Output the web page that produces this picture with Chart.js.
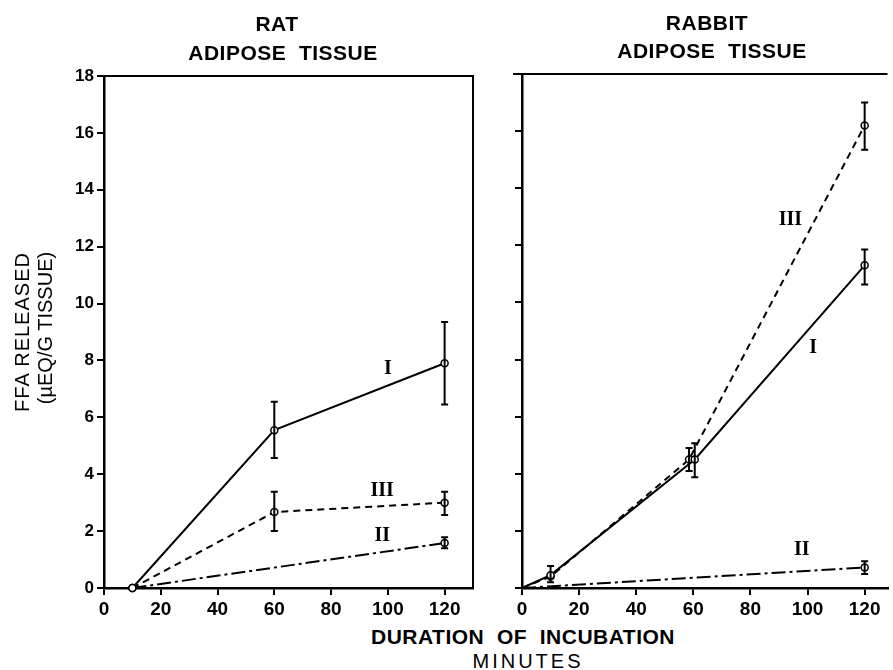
<!DOCTYPE html>
<html lang="en">
<head>
<meta charset="UTF-8">
<title>FFA released - rat and rabbit adipose tissue</title>
<script src="https://cdn.jsdelivr.net/npm/chart.js"></script>
<style>
    body { margin: 0; background: #fff; }
    #wrap { position: relative; width: 893px; height: 670px; background: #fff; font-family: "Liberation Sans", Arial, sans-serif; color: #000; }
    canvas { position: absolute; top: 0; }
    #ratCanvas { left: 0; }
    #rabbitCanvas { left: 480px; }
    .lbl { position: absolute; white-space: pre; text-align: center; font-size: 20px; line-height: 1; }
    .hd { font-weight: bold; font-size: 21px; letter-spacing: 0.5px; }
    .rot { transform: translate(-50%, -50%) rotate(-90deg); }
</style>
</head>
<body>
<div id="wrap">
    <canvas id="ratCanvas" width="480" height="625"></canvas>
    <canvas id="rabbitCanvas" width="413" height="625"></canvas>

    <div class="lbl hd" style="left:277px; top:13px; transform:translateX(-50%);">RAT</div>
    <div class="lbl hd" style="left:283px; top:42px; transform:translateX(-50%);">ADIPOSE  TISSUE</div>
    <div class="lbl hd" style="left:707px; top:12px; transform:translateX(-50%);">RABBIT</div>
    <div class="lbl hd" style="left:712px; top:40px; transform:translateX(-50%);">ADIPOSE  TISSUE</div>

    <div class="lbl rot" style="left:22px; top:332px; letter-spacing:1px;">FFA RELEASED</div>
    <div class="lbl rot" style="left:45px; top:328px;">(µEQ/G TISSUE)</div>

    <div class="lbl hd" style="left:523px; top:626px; transform:translateX(-50%);">DURATION  OF  INCUBATION</div>
    <div class="lbl" style="left:528px; top:651px; transform:translateX(-50%); letter-spacing:3px;">MINUTES</div>
</div>

<script>
    // axis ticks
    const xTicks = [0, 20, 40, 60, 80, 100, 120];
    const yTicks = [0, 2, 4, 6, 8, 10, 12, 14, 16, 18];

    // rat adipose tissue
    const ratX = [10, 60, 120];
    const ratI = [0, 5.55, 7.9];
    const ratILo = [null, 4.57, 6.45];
    const ratIHi = [null, 6.55, 9.35];
    const ratIII = [0, 2.67, 3.0];
    const ratIIILo = [null, 2.0, 2.57];
    const ratIIIHi = [null, 3.38, 3.38];
    const ratIIX = [10, 120];
    const ratII = [0, 1.58];
    const ratIILo = [null, 1.4];
    const ratIIHi = [null, 1.78];

    // rabbit adipose tissue
    const rabIX = [0, 10, 60.5, 120];
    const rabI = [0, 0.45, 4.5, 11.3];
    const rabILo = [null, 0.2, 3.88, 10.63];
    const rabIHi = [null, 0.77, 5.07, 11.85];
    const rabIIIX = [0, 10, 58.5, 120];
    const rabIII = [0, 0.4, 4.5, 16.2];
    const rabIIILo = [null, null, 4.1, 15.35];
    const rabIIIHi = [null, null, 4.9, 17.0];
    const rabIIX = [0, 120];
    const rabII = [0, 0.72];
    const rabIILo = [null, 0.49];
    const rabIIHi = [null, 0.94];

    // curve labels (data coordinates)
    const ratLabels = [["I", 100, 7.7], ["III", 98, 3.4], ["II", 98, 1.85]];
    const rabLabels = [["III", 94, 12.9], ["I", 102, 8.4], ["II", 98, 1.35]];

    const pts = (xs, ys) => xs.map((x, i) => ({ x: x, y: ys[i] }));

    function series(xs, ys, lo, hi, dash) {
        return {
            data: pts(xs, ys),
            errLo: lo, errHi: hi,
            borderColor: "#000", borderWidth: 2, borderDash: dash,
            pointRadius: ctx => (ctx.raw && ctx.raw.x === 0 ? 0 : 3.5),
            pointBackgroundColor: "#fff", pointBorderColor: "#000", pointBorderWidth: 1.5,
            tension: 0, clip: false
        };
    }

    const errorBars = {
        id: "errorBars",
        afterDatasetsDraw(chart) {
            const ctx = chart.ctx, xs = chart.scales.x, ys = chart.scales.y;
            ctx.save();
            ctx.strokeStyle = "#000";
            ctx.lineWidth = 2;
            chart.data.datasets.forEach(ds => {
                ds.data.forEach((p, i) => {
                    if (ds.errLo[i] == null) return;
                    const px = xs.getPixelForValue(p.x);
                    const y1 = ys.getPixelForValue(ds.errLo[i]);
                    const y2 = ys.getPixelForValue(ds.errHi[i]);
                    ctx.beginPath();
                    ctx.moveTo(px, y1); ctx.lineTo(px, y2);
                    ctx.moveTo(px - 3.5, y1); ctx.lineTo(px + 3.5, y1);
                    ctx.moveTo(px - 3.5, y2); ctx.lineTo(px + 3.5, y2);
                    ctx.stroke();
                });
            });
            ctx.restore();
        }
    };

    const extras = {
        id: "extras",
        afterDraw(chart, args, opts) {
            const ctx = chart.ctx, a = chart.chartArea;
            ctx.save();
            ctx.strokeStyle = "#000";
            ctx.lineWidth = 2;
            ctx.beginPath();
            ctx.moveTo(a.left - opts.topStart, a.top);
            ctx.lineTo(a.right, a.top);
            if (opts.rightEdge) ctx.lineTo(a.right, a.bottom);
            ctx.stroke();
            ctx.fillStyle = "#000";
            ctx.font = 'bold 20px "Liberation Serif", serif';
            ctx.textAlign = "center";
            ctx.textBaseline = "middle";
            opts.labels.forEach(l => {
                ctx.fillText(l[0], chart.scales.x.getPixelForValue(l[1]), chart.scales.y.getPixelForValue(l[2]));
            });
            ctx.restore();
        }
    };

    function axis(min, max, tickVals, fitSize, isX, showLabels) {
        return {
            type: "linear", min: min, max: max,
            afterBuildTicks: s => { s.ticks = tickVals.map(v => ({ value: v })); },
            afterFit: s => { if (isX) s.height = fitSize; else s.width = fitSize; },
            grid: { display: true, drawOnChartArea: false, drawTicks: true, tickLength: 7, color: "#000", lineWidth: 2 },
            border: { display: true, color: "#000", width: 2.5 },
            ticks: {
                color: "#000", autoSkip: false, maxRotation: 0, padding: 3,
                font: { family: "Liberation Sans", weight: "bold", size: isX ? 19 : 17 },
                callback: v => (showLabels ? String(v) : "")
            }
        };
    }

    function makeChart(id, datasets, xMax, yWidth, pad, frame) {
        return new Chart(document.getElementById(id), {
            type: "line",
            data: { datasets: datasets },
            options: {
                responsive: false, animation: false, events: [],
                layout: { padding: pad },
                plugins: { legend: { display: false }, tooltip: { enabled: false }, extras: frame },
                scales: {
                    x: axis(0, xMax, xTicks, 37, true, true),
                    y: axis(0, 18, yTicks, yWidth, false, frame.yLabels)
                }
            },
            plugins: [errorBars, extras]
        });
    }

    makeChart("ratCanvas", [
        series(ratX, ratI, ratILo, ratIHi, []),
        series(ratX, ratIII, ratIIILo, ratIIIHi, [7, 5]),
        series(ratIIX, ratII, ratIILo, ratIIHi, [14, 4, 3, 4])
    ], 130, 104, { top: 76, right: 7, left: 0, bottom: 0 },
       { labels: ratLabels, rightEdge: true, topStart: 7, yLabels: true });

    makeChart("rabbitCanvas", [
        series(rabIX, rabI, rabILo, rabIHi, []),
        series(rabIIIX, rabIII, rabIIILo, rabIIIHi, [7, 5]),
        series(rabIIX, rabII, rabIILo, rabIIHi, [14, 4, 3, 4])
    ], 128, 42, { top: 74, right: 0, left: 0, bottom: 0 },
       { labels: rabLabels, rightEdge: false, topStart: 9, yLabels: false });
</script>
</body>
</html>
